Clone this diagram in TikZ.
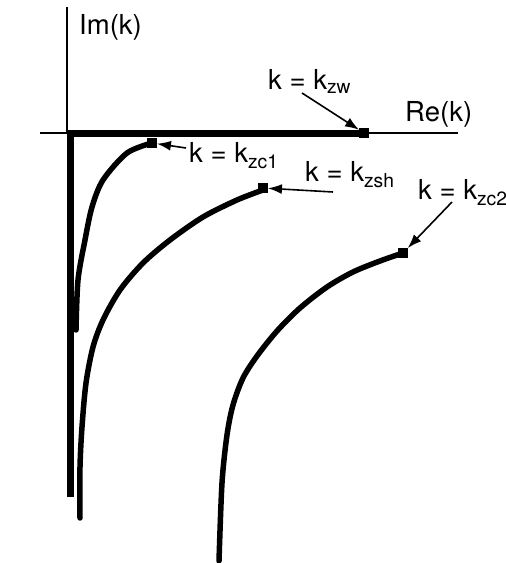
\documentclass[tikz,border=0pt]{standalone}
\usepackage{fontspec}
\setmainfont{TeX Gyre Heros}
\usetikzlibrary{arrows.meta}
\tikzset{
  axisline/.style={line width=1.5pt},
  cutline/.style={line width=7pt},
  branch/.style={line width=5.5pt,line cap=round},
  endmark/.style={fill=black,minimum size=9.5pt,inner sep=0pt},
  pointer/.style={line width=1.6pt,-{Latex[length=14pt,width=10pt]}},
  lbl/.style={font=\fontsize{27.5}{32}\selectfont,inner sep=0pt}
}

\begin{document}
\begin{tikzpicture}[x=1pt,y=1pt]
\useasboundingbox (0,0) rectangle (506,563);
% axes
\draw[axisline] (40,430) -- (458,430);
\draw[axisline] (67,556) -- (67,430);
\node[lbl,anchor=base west] (imk) at (79,528) {Im(k)};
\node[lbl,anchor=base west] (rek) at (405,441) {Re(k)};
% branch cuts
\draw[cutline] (364,429.5) -- (70.5,429.5) -- (70.5,66);
\draw[branch] plot[smooth] coordinates {(152,420) (127,410) (103,383) (92,356) (85,323) (78,283) (76,233)};
\draw[branch] plot[smooth] coordinates {(263,373) (237,363) (203,346) (170,323) (143,300) (120,273) (103,243) (93,216) (86,180) (82,136) (80,96) (80,45)};
\draw[branch] plot[smooth] coordinates {(403,310) (380,302) (353,291) (327,276) (300,255) (277,232) (257,207) (243,185) (233,158) (227,128) (222,80) (219,2)};
% end points
\node[endmark] (zw) at (364,430) {};
\node[endmark] (zc1) at (152,420) {};
\node[endmark] (zsh) at (263,375) {};
\node[endmark] (zc2) at (403,310) {};
\node[lbl,anchor=base west] (lzw) at (268,473) {k = k\textsubscript{zw}};
\node[lbl,anchor=base west] (lzc1) at (189,400) {k = k\textsubscript{zc1}};
\node[lbl,anchor=base west] (lzsh) at (305,381) {k = k\textsubscript{zsh}};
\node[lbl,anchor=base west] (lzc2) at (418,363) {k = k\textsubscript{zc2}};
\coordinate (tzw) at (302,470);
\coordinate (tzc1) at (186,415);
\coordinate (tzsh) at (333,371);
\coordinate (tzc2) at (452,361);
\draw[pointer] (tzw) -- (zw);
\draw[pointer] (tzc1) -- (zc1);
\draw[pointer] (tzsh) -- (zsh);
\draw[pointer] (tzc2) -- (zc2);
\end{tikzpicture}
\end{document}
